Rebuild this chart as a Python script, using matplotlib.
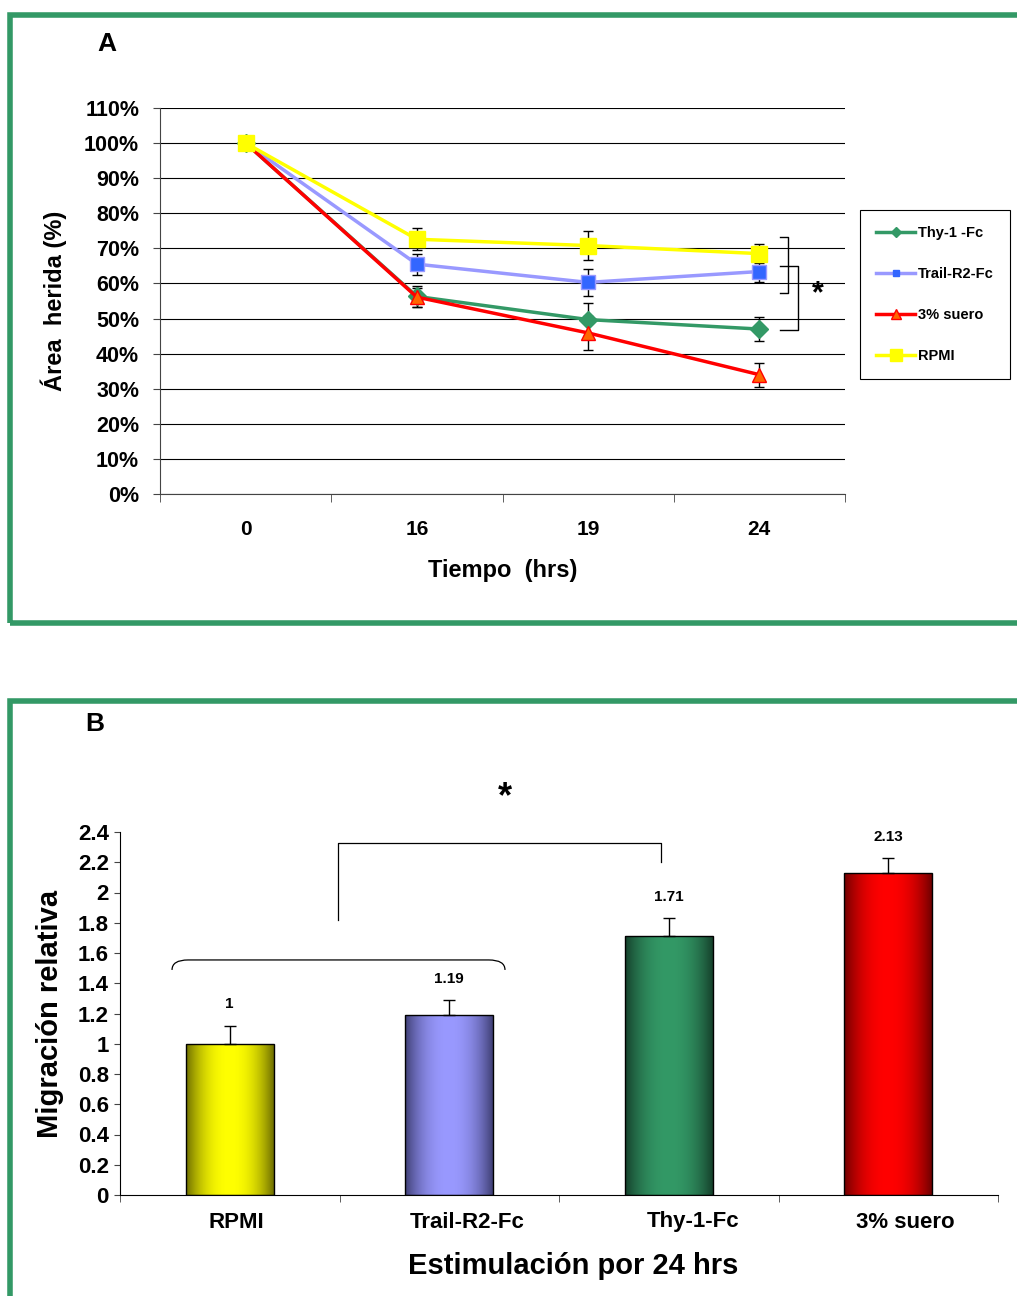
import numpy as np
import matplotlib
matplotlib.use('Agg')
import matplotlib.pyplot as plt
import matplotlib.transforms as mtransforms
from matplotlib.patches import Rectangle, PathPatch
from matplotlib.path import Path
from matplotlib.lines import Line2D

plt.rcParams['font.family'] = ['Liberation Sans', 'DejaVu Sans']
plt.rcParams['font.weight'] = 'bold'

# ---- datos panel A ----
tiempos = ['0', '16', '19', '24']
series_a = ['Thy-1 -Fc', 'Trail-R2-Fc', '3% suero', 'RPMI']
thy1 = [1.00, 0.563, 0.497, 0.470]
thy1_err = [0, 0.029, 0.047, 0.035]
trail = [1.00, 0.655, 0.603, 0.634]
trail_err = [0, 0.030, 0.039, 0.030]
suero = [1.00, 0.561, 0.459, 0.340]
suero_err = [0, 0.027, 0.048, 0.034]
rpmi = [1.00, 0.726, 0.708, 0.685]
rpmi_err = [0, 0.031, 0.042, 0.028]

# ---- datos panel B ----
estimulos = ['RPMI', 'Trail-R2-Fc', 'Thy-1-Fc', '3% suero']
migracion = [1.00, 1.19, 1.71, 2.13]
migracion_err = [0.12, 0.10, 0.12, 0.10]
etiquetas_b = ['1', '1.19', '1.71', '2.13']

W, H = 1017, 1296
fig = plt.figure(figsize=(W / 100, H / 100), dpi=100)
verde = '#339966'


def px(l, t, r, b):
    return [l / W, 1 - b / H, (r - l) / W, (b - t) / H]


# marcos verdes
fig.patches.append(Rectangle((10 / W, 1 - 623 / H), 1.05, 608 / H, transform=fig.transFigure,
                             fill=False, ec=verde, lw=4))
fig.patches.append(Rectangle((10 / W, -0.05), 1.05, 0.05 + 1 - 701 / H, transform=fig.transFigure,
                             fill=False, ec=verde, lw=4))

# ================= Panel A =================
ax = fig.add_axes(px(160, 108, 845, 494))
x = np.arange(len(tiempos))
estilos = [
    (thy1, thy1_err, verde, 'D', verde, verde, 9),
    (trail, trail_err, '#9999FF', 's', '#3366FF', '#9999FF', 10),
    (suero, suero_err, '#FF0000', '^', '#FF6600', '#FF0000', 10),
    (rpmi, rpmi_err, '#FFFF00', 's', '#FFFF00', '#FFFF00', 11),
]
for (vals, err, c, m, fc, ec, ms), lab in zip(estilos, series_a):
    ax.errorbar(x, vals, yerr=err, fmt='none', ecolor='black', elinewidth=1, capsize=3.5, capthick=1, zorder=3)
    ax.plot(x, vals, color=c, lw=2.5, marker=m, ms=ms, mfc=fc, mec=ec, label=lab, zorder=4)

ax.set_xlim(-0.5, 3.5)
ax.set_ylim(0, 1.1)
ax.set_yticks(np.arange(0, 1.11, 0.1))
ax.set_yticklabels([f'{int(round(v * 100))}%' for v in np.arange(0, 1.11, 0.1)], fontsize=15.5, fontweight='bold')
ax.yaxis.grid(True, color='black', lw=0.8)
ax.set_axisbelow(True)
ax.set_xticks(x)
ax.set_xticklabels(tiempos, fontsize=15, fontweight='bold')
ax.set_xticks(np.arange(-0.5, 3.6, 1), minor=True)
ax.tick_params(axis='x', which='major', length=0, pad=19)
ax.tick_params(axis='x', which='minor', length=6, direction='out', color='#444444')
ax.tick_params(axis='y', length=5, direction='out', color='#444444', pad=10)
for s in ['top', 'right']:
    ax.spines[s].set_visible(False)
for s in ['left', 'bottom']:
    ax.spines[s].set_color('#444444')
ax.set_ylabel('Área  herida (%)', fontsize=17, fontweight='bold', labelpad=12)
ax.set_xlabel('Tiempo  (hrs)', fontsize=17, fontweight='bold', labelpad=14)

# corchetes de significancia
ax.plot([3.12, 3.165, 3.165, 3.12], [0.732, 0.732, 0.574, 0.574], color='black', lw=1, clip_on=False)
ax.plot([3.12, 3.225, 3.225, 3.12], [0.651, 0.651, 0.468, 0.468], color='black', lw=1, clip_on=False)
ax.text(3.34, 0.57, '*', fontsize=22, fontweight='bold', ha='center', va='center')

fig.text(107 / W, 1 - 44 / H, 'A', fontsize=19, fontweight='bold', ha='center', va='center')

handles = [
    Line2D([], [], color=verde, lw=2.5, marker='D', ms=5, mfc=verde, mec=verde),
    Line2D([], [], color='#9999FF', lw=2.5, marker='s', ms=5, mfc='#3366FF', mec='#3366FF'),
    Line2D([], [], color='#FF0000', lw=2.5, marker='^', ms=7, mfc='#FF6600', mec='#FF0000'),
    Line2D([], [], color='#FFFF00', lw=2.5, marker='s', ms=8, mfc='#FFFF00', mec='#FFFF00'),
]
leg = fig.legend(handles, series_a, loc='upper left', bbox_to_anchor=(860 / W, 1 - 210 / H),
                 frameon=True, fancybox=False, edgecolor='black', framealpha=1,
                 prop={'weight': 'bold', 'size': 10.5}, handlelength=2.7, labelspacing=1.85,
                 borderpad=1.1, handletextpad=0.2, borderaxespad=0)
leg.get_frame().set_linewidth(0.8)

# ================= Panel B =================
bx = fig.add_axes(px(120, 832, 998, 1195))
xb = np.arange(len(estimulos))
colores = [('#FFFF00', '#6E6E00'), ('#9999FF', '#3F3F75'), ('#339966', '#15402B'), ('#FF0000', '#700000')]
ancho = 0.4
bars = bx.bar(xb, migracion, width=ancho, color='none', edgecolor='black', lw=1, zorder=3)
t = np.linspace(0, 1, 200)
w = 1 - np.abs(2 * t - 1) ** 2.2
for b, (clar, osc) in zip(bars, colores):
    c1 = np.array(matplotlib.colors.to_rgb(clar))
    c0 = np.array(matplotlib.colors.to_rgb(osc))
    img = (c0[None, :] + (c1 - c0)[None, :] * w[:, None])[None, :, :]
    im = bx.imshow(img, extent=[b.get_x(), b.get_x() + b.get_width(), 0, b.get_height()],
                   aspect='auto', zorder=2, interpolation='bilinear')
    im.set_clip_path(b)
bx.errorbar(xb, migracion, yerr=[[0] * 4, migracion_err], fmt='none', ecolor='black',
            elinewidth=1, capsize=4, capthick=1, zorder=4)
for xi, v, e, lab in zip(xb, migracion, migracion_err, etiquetas_b):
    bx.text(xi, v + e + 0.14, lab, ha='center', va='center', fontsize=11, fontweight='bold')

bx.set_xlim(-0.5, 3.5)
bx.set_ylim(0, 2.4)
yt = np.arange(0, 2.41, 0.2)
bx.set_yticks(yt)
bx.set_yticklabels([f'{v:g}' for v in np.round(yt, 1)], fontsize=16, fontweight='bold')
bx.set_xticks(xb)
bx.set_xticklabels([])
# etiquetas de categoria (algo desplazadas a la derecha como en el original)
desplaz = [0.03, 0.08, 0.11, 0.08]
trans_x = mtransforms.blended_transform_factory(bx.transData, fig.transFigure)
for xi, lab, d in zip(xb, estimulos, desplaz):
    bx.text(xi + d, 1 - 1222 / H, lab, transform=trans_x, ha='center', va='center',
            fontsize=16, fontweight='bold')
bx.set_xticks(np.arange(-0.5, 3.6, 1), minor=True)
bx.tick_params(axis='x', which='major', length=0)
bx.tick_params(axis='x', which='minor', length=5, direction='out', color='#444444')
bx.tick_params(axis='y', length=4, direction='out', color='#444444', pad=4)
for s in ['top', 'right']:
    bx.spines[s].set_visible(False)
bx.set_ylabel('Migración relativa', fontsize=21, fontweight='bold', labelpad=10)
fig.text(573 / W, 1 - 1266 / H, 'Estimulación por 24 hrs', fontsize=21, fontweight='bold',
         ha='center', va='center')

# corchete y llave
bx.plot([0.493, 0.493, 1.965, 1.965], [1.818, 2.327, 2.327, 2.20], color='black', lw=0.9, clip_on=False)
verts = [(-0.263, 1.488), (-0.263, 1.554), (-0.19, 1.554), (-0.19, 1.554),
         (1.18, 1.554), (1.18, 1.554), (1.254, 1.554), (1.254, 1.488)]
codes = [Path.MOVETO, Path.CURVE3, Path.CURVE3, Path.LINETO,
         Path.LINETO, Path.LINETO, Path.CURVE3, Path.CURVE3]
bx.add_patch(PathPatch(Path(verts, codes), fill=False, ec='black', lw=0.9, clip_on=False))
bx.text(1.254, 2.63, '*', fontsize=26, fontweight='bold', ha='center', va='center', clip_on=False)

fig.text(95 / W, 1 - 724 / H, 'B', fontsize=19, fontweight='bold', ha='center', va='center')

fig.savefig('out.png', dpi=100)
